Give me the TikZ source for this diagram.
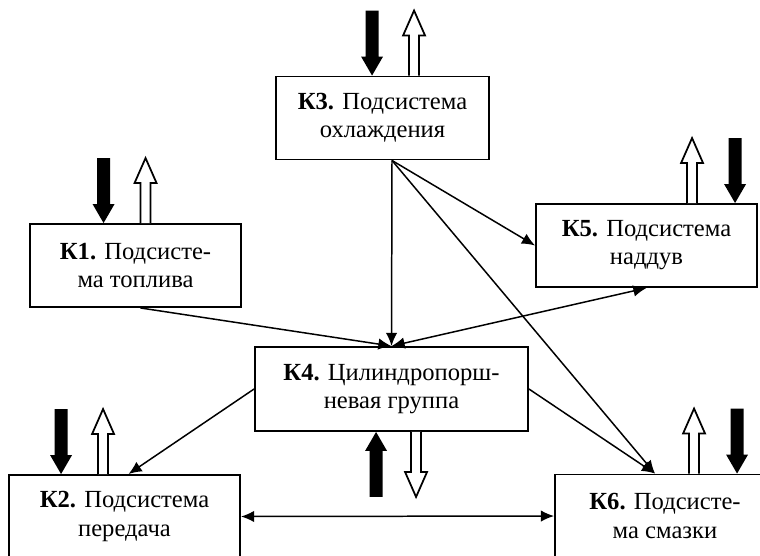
\documentclass[tikz,border=0pt]{standalone}
\usepackage{fontspec}
\setmainfont{Liberation Serif}
\usetikzlibrary{positioning,calc,arrows.meta}

\tikzset{
  subsys/.style={draw, line width=1.1pt, align=center, minimum height=1.66cm,
    inner sep=2pt, font=\fontsize{14}{16}\selectfont},
  link/.style={line width=0.85pt, -{Latex[length=7.5pt,width=6.5pt]}},
  twoway/.style={line width=0.85pt, {Latex[length=7.5pt,width=6.5pt]}-{Latex[length=7.5pt,width=6.5pt]}},
  inflow/.pic={\fill (0,0) -- (11,-19) -- (6.5,-19) -- (6.5,-65) -- (-6.5,-65)
    -- (-6.5,-19) -- (-11,-19) -- cycle;},
  outflow/.pic={\draw[line width=1pt, fill=white] (-5,0) -- (-5,-40) -- (-11,-40)
    -- (0,-65) -- (11,-40) -- (5,-40) -- (5,0);},
}

\begin{document}
\begin{tikzpicture}[x=0.02cm, y=-0.02cm]
    \clip (0,0) rectangle (760,555);

    % subsystems
    \node[subsys, minimum width=4.26cm] (K3) at (382.5,118) {\textbf{К3.} Подсистема\\охлаждения};
    \node[subsys, minimum width=4.22cm] (K1) at (135.5,265.5) {\textbf{К1.} Подсисте-\\ма топлива};
    \node[subsys, minimum width=4.42cm] (K5) at (646.5,245.5) {\textbf{К5.} Подсистема\\наддув};
    \node[subsys, minimum width=5.46cm, minimum height=1.68cm] (K4) at (391.5,389) {\textbf{К4.} Цилиндропорш-\\невая группа};
    \node[subsys, minimum width=4.62cm] (K2) at (124.5,516.5) {\textbf{К2.} Подсистема\\передача};
    \node[subsys, minimum width=4.4cm] (K6) at (665,516) {\textbf{К6.} Подсисте-\\ма смазки};

    % inputs and outputs
    \pic at ($(K3.north west)+(97,0)$) {inflow};
    \pic at ($(K3.north west)+(139,0)$) {outflow};
    \pic at ($(K1.north west)+(74.5,0)$) {inflow};
    \pic at ($(K1.north west)+(116.5,0)$) {outflow};
    \pic at ($(K5.north west)+(157,0)$) {outflow};
    \pic at ($(K5.north west)+(200,0)$) {inflow};
    \pic[rotate=180] at ($(K4.south west)+(122,0)$) {inflow};
    \pic[rotate=180] at ($(K4.south west)+(162,0)$) {outflow};
    \pic at ($(K2.north west)+(53,0)$) {inflow};
    \pic at ($(K2.north west)+(95,0)$) {outflow};
    \pic at ($(K6.north west)+(140,0)$) {outflow};
    \pic at ($(K6.north west)+(183,0)$) {inflow};

    % links
    \coordinate (k3foot) at ($(K3.south)+(9.5,0)$);
    \coordinate (k6top) at ($(K6.north)+(-10,0)$);
    \draw[link] (k3foot) -- (K4.north);
    \draw[link] (k3foot) -- (K5.west);
    \draw[link] (k3foot) -- (k6top);
    \draw[link] (K4.east) -- (k6top);
    \draw[link] ($(K1.south)+(5,0)$) -- (K4.north);
    \draw[twoway] (K4.north) -- (K5.south);
    \draw[link] (K4.west) -- ($(K2.north)+(4,0)$);
    \draw[twoway] (K2.east) -- (K6.west);
\end{tikzpicture}
\end{document}
